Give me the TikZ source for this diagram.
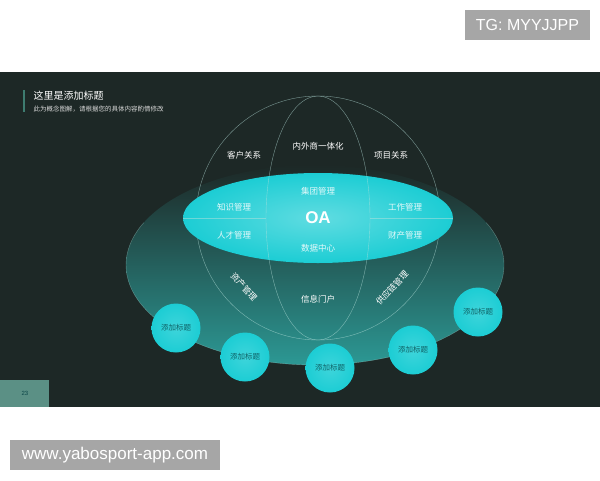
\documentclass[tikz,border=0pt]{standalone}
\usepackage{fontspec}
\setmainfont{Liberation Sans}
\newfontfamily\cjk{Noto Sans CJK SC}
\usepackage{tikz}
\usetikzlibrary{positioning,shadings}

\definecolor{slidebg}{HTML}{1D2826}
\definecolor{oacyan}{HTML}{1CCDD4}
\definecolor{disc}{HTML}{2C9894}
\definecolor{wire}{HTML}{B8E2DC}
\definecolor{tagbox}{HTML}{A6A6A6}
\definecolor{bar}{HTML}{3E7C70}
\definecolor{deep}{HTML}{0F6266}

\begin{document}
\begin{tikzpicture}[x=1pt,y=-1pt,semithick]
  \tikzstyle{lbl}=[text=white,font=\cjk\fontsize{8.5}{9}\selectfont]
  \tikzstyle{inlbl}=[text=white!88!oacyan,font=\cjk\fontsize{8.5}{9}\selectfont]
  \tikzstyle{ball}=[circle,minimum size=49pt,inner sep=0pt,inner color=oacyan!85!white,
                    outer color=oacyan,text=deep,font=\cjk\fontsize{7.5}{8}\selectfont]
  \tikzstyle{tag}=[fill=tagbox,text=white,inner sep=0pt]
  \tikzstyle{wireline}=[wire,thin]

  \useasboundingbox (0,0) rectangle (600,480);
  \fill[white] (0,0) rectangle (600,480);
  \fill[slidebg] (0,72) rectangle (600,407);

  % disc and sphere
  \shade[top color=slidebg,middle color=slidebg!75!disc,bottom color=disc] (315,265) ellipse (189 and 100);
  \draw[wireline,opacity=.4] (-25:189 and 100) ++(315,265) arc[start angle=-25,end angle=205,x radius=189,y radius=100];
  \draw[wireline,opacity=.6] (318,218) circle (122);
  \shade[inner color=oacyan!70!white,outer color=oacyan] (318,218) ellipse (135 and 45);
  \draw[wireline,opacity=.6] (318,218) ellipse (52 and 122);
  \draw[wireline,opacity=.5] (183,218) -- (266,218);
  \draw[wireline,opacity=.5] (370,218) -- (453,218);

  % title
  \draw[bar,line width=1.5pt] (24,90) -- (24,112);
  \node (title) [anchor=west,text=white,font=\cjk\fontsize{10}{11}\selectfont] at (30,96) {这里是添加标题};
  \node (sub) [anchor=west,text=white!85!black,font=\cjk\fontsize{6.5}{7}\selectfont] at (30,109)
        {此为概念图解，请根据您的具体内容酌情修改};

  % labels
  \node (kh) [lbl] at (244,155) {客户关系};
  \node (nw) [lbl] at (318,146) {内外商一体化};
  \node (xm) [lbl] at (391,155) {项目关系};
  \node (jt) [inlbl] at (318,191) {集团管理};
  \node (zs) [inlbl] at (234,207) {知识管理};
  \node (oa) [text=white,font=\bfseries\fontsize{17}{18}\selectfont] at (318,218) {OA};
  \node (gz) [inlbl] at (405,207) {工作管理};
  \node (rc) [inlbl] at (234,235) {人才管理};
  \node (cc) [inlbl] at (405,235) {财产管理};
  \node (sj) [inlbl] at (318,248) {数据中心};
  \node (zc) [lbl,rotate=-47] at (244,287) {资产管理};
  \node (xx) [lbl] at (318,299) {信息门户};
  \node (gy) [lbl,rotate=47] at (392,288) {供应链管理};

  % small circles
  \node (c1) [ball] at (176,328) {添加标题};
  \node (c2) [ball] at (245,357) {添加标题};
  \node (c3) [ball] at (330,368) {添加标题};
  \node (c4) [ball] at (413,350) {添加标题};
  \node (c5) [ball] at (478,312) {添加标题};

  % page number
  \fill[bar!85] (0,380) rectangle (49,407);
  \node (pg) [text=deep!70!black,font=\fontsize{6}{6}\selectfont] at (25,393) {23};

  % watermarks
  \node (tg) [tag,minimum width=125pt,minimum height=30pt,font=\fontsize{16}{16}\selectfont] at (527.5,25) {TG: MYYJJPP};
  \node (www) [tag,minimum width=210pt,minimum height=30pt,font=\fontsize{17}{17}\selectfont] at (115,455) {www.yabosport-app.com};
\end{tikzpicture}
\end{document}
